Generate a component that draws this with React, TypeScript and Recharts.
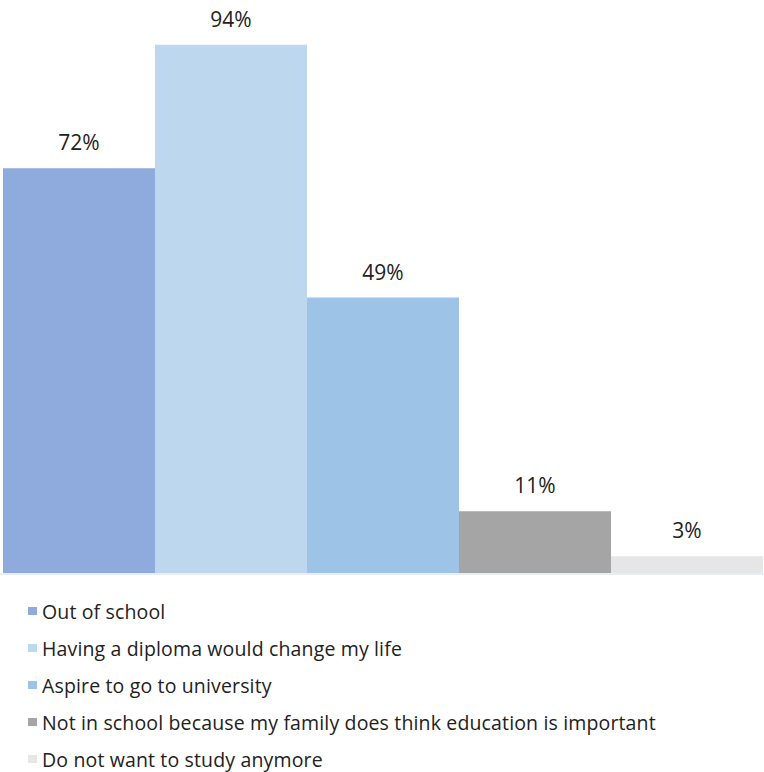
import { BarChart, Bar, XAxis, YAxis, LabelList } from "recharts";

const seriesNames = [
  "Out of school",
  "Having a diploma would change my life",
  "Aspire to go to university",
  "Not in school because my family does think education is important",
  "Do not want to study anymore",
];
const seriesValues = [72, 94, 49, 11, 3];
const seriesColors = ["#8faadc", "#bdd7ee", "#9dc3e6", "#a5a5a5", "#e7e6e6"];
const seriesKeys = ["s0", "s1", "s2", "s3", "s4"];

const row: Record<string, string | number> = { name: "all" };
seriesKeys.forEach((k, i) => {
  row[k] = seriesValues[i];
});
const chartData = [row];

const font = "'Open Sans', Lato, sans-serif";

const App = () => {
  return (
    <div
      style={{
        position: "absolute",
        left: 0,
        top: 0,
        width: 764,
        height: 772,
        background: "#fff",
        fontFamily: font,
        overflow: "hidden",
      }}
    >
      <BarChart
        width={764}
        height={575}
        data={chartData}
        margin={{ top: 11, right: 0, left: 3, bottom: 2 }}
        barCategoryGap={0}
        barGap={0}
      >
        <XAxis dataKey="name" hide />
        <YAxis domain={[0, 100]} hide />
        {seriesKeys.map((k, i) => (
          <Bar
            key={k}
            dataKey={k}
            name={seriesNames[i]}
            fill={seriesColors[i]}
            isAnimationActive={false}
          >
            <LabelList
              dataKey={k}
              position="top"
              offset={18}
              formatter={(v: any) => `${v}%`}
              style={{ fill: "#222", fontSize: 21, fontFamily: font }}
            />
          </Bar>
        ))}
      </BarChart>
      {/* faint baseline under the bars */}
      <div style={{ position: "absolute", left: 0, top: 573, width: 764, height: 2, background: "#e8eef4" }} />
      {seriesNames.map((n, i) => (
        <div
          key={n}
          style={{
            position: "absolute",
            left: 28,
            top: 599.5 + i * 37,
            height: 24,
            display: "flex",
            alignItems: "flex-start",
            fontSize: 19.5,
            color: "#222",
            whiteSpace: "nowrap",
            letterSpacing: 0.15,
          }}
        >
          <span
            style={{
              display: "inline-block",
              width: 9,
              height: 8,
              marginTop: 7,
              marginRight: 5,
              background: seriesColors[i],
            }}
          />
          <span style={{ lineHeight: "24px" }}>{n}</span>
        </div>
      ))}
    </div>
  );
};

export default App;
